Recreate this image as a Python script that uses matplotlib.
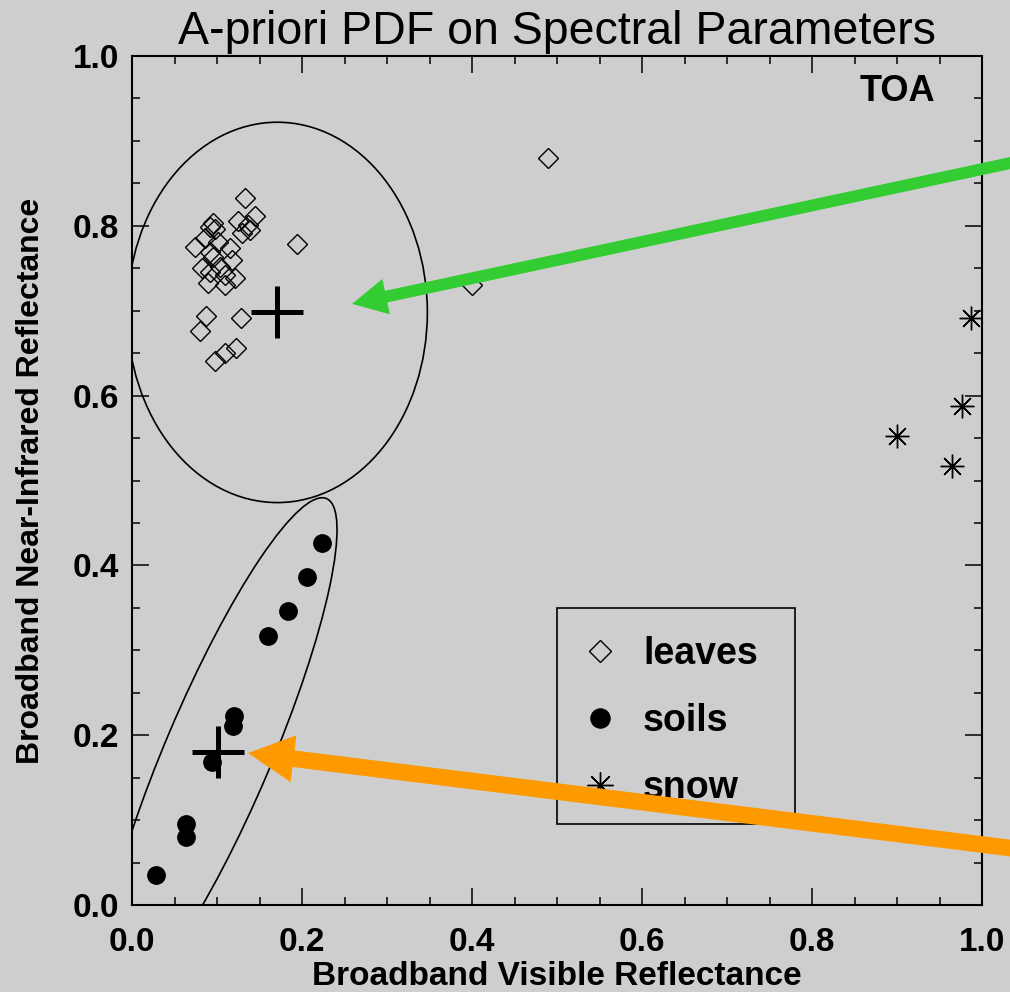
import matplotlib
matplotlib.use("Agg")
import matplotlib.pyplot as plt
from matplotlib.patches import Ellipse, FancyArrowPatch, Rectangle
from matplotlib.ticker import MultipleLocator, FormatStrFormatter

plt.rcParams['font.family'] = ['Liberation Sans', 'DejaVu Sans']

# ---------------- data ----------------
leaves_x = [0.133, 0.145, 0.125, 0.136, 0.139, 0.129, 0.095, 0.092, 0.098, 0.086,
            0.074, 0.101, 0.115, 0.092, 0.095, 0.118, 0.082, 0.104, 0.092, 0.109,
            0.121, 0.089, 0.109, 0.194, 0.087, 0.128, 0.080, 0.122, 0.109, 0.098,
            0.489, 0.400]
leaves_y = [0.833, 0.812, 0.806, 0.801, 0.795, 0.792, 0.803, 0.799, 0.796, 0.786,
            0.775, 0.781, 0.774, 0.769, 0.763, 0.760, 0.750, 0.751, 0.746, 0.742,
            0.739, 0.733, 0.730, 0.779, 0.694, 0.691, 0.676, 0.656, 0.650, 0.641,
            0.880, 0.730]

soils_x = [0.223, 0.206, 0.183, 0.160, 0.120, 0.119, 0.094, 0.063, 0.063, 0.028]
soils_y = [0.426, 0.386, 0.346, 0.317, 0.223, 0.211, 0.169, 0.095, 0.080, 0.035]

snow_x = [0.987, 0.976, 0.900, 0.965]
snow_y = [0.691, 0.588, 0.552, 0.517]

# class means (crosses)
mean_x = [0.170, 0.101]
mean_y = [0.698, 0.180]

# PDF ellipses: centre, full width, full height, angle (deg)
leaves_ell = dict(cx=0.171, cy=0.698, w=0.353, h=0.448, angle=0.0)
soils_ell = dict(cx=0.102, cy=0.180, w=0.649, h=0.125, angle=67.0)

# arrows: tail -> tip (data coords)
green_tail, green_tip = (1.05, 0.8775), (0.259, 0.708)
orange_tail, orange_tip = (1.05, 0.065), (0.1365, 0.179)

ticks = [0.0, 0.2, 0.4, 0.6, 0.8, 1.0]
legend_labels = ['leaves', 'soils', 'snow']

# ---------------- figure ----------------
BG = '#cecece'
fig = plt.figure(figsize=(10.10, 9.92), dpi=100, facecolor=BG)
ax = fig.add_axes([132/1010, 87/992, 850/1010, 849/992])
ax.set_facecolor(BG)

ax.set_xlim(0, 1)
ax.set_ylim(0, 1)

l1, = ax.plot(leaves_x, leaves_y, linestyle='none', marker='D', markersize=10.5,
              markerfacecolor='none', markeredgecolor='black', markeredgewidth=1.0,
              label=legend_labels[0])
l2, = ax.plot(soils_x, soils_y, linestyle='none', marker='o', markersize=12.5,
              markerfacecolor='black', markeredgecolor='black', label=legend_labels[1])
l3, = ax.plot(snow_x, snow_y, linestyle='none', marker=(8, 2, 0), markersize=17,
              markeredgecolor='black', markeredgewidth=1.0, label=legend_labels[2])

ax.plot(mean_x, mean_y, linestyle='none', marker='+', markersize=37,
        markeredgewidth=3.6, color='black')

for e in (leaves_ell, soils_ell):
    ax.add_patch(Ellipse((e['cx'], e['cy']), e['w'], e['h'], angle=e['angle'],
                         fill=False, edgecolor='black', linewidth=1.2))

# ticks / spines
ax.xaxis.set_minor_locator(MultipleLocator(0.05))
ax.yaxis.set_minor_locator(MultipleLocator(0.05))
ax.set_xticks(ticks)
ax.set_yticks(ticks)
ax.xaxis.set_major_formatter(FormatStrFormatter('%.1f'))
ax.yaxis.set_major_formatter(FormatStrFormatter('%.1f'))
ax.tick_params(which='both', direction='in', top=True, right=True, color='black')
ax.tick_params(which='major', length=12, width=1.1)
ax.tick_params(which='minor', length=6, width=1.1)
ax.tick_params(axis='x', which='major', pad=16, labelsize=24)
ax.tick_params(axis='y', which='major', pad=9, labelsize=24)
for lab in ax.get_xticklabels() + ax.get_yticklabels():
    lab.set_fontweight('bold')
for s in ax.spines.values():
    s.set_linewidth(1.5)

ax.set_xlabel('Broadband Visible Reflectance', fontsize=24, fontweight='bold')
ax.set_ylabel('Broadband Near-Infrared Reflectance', fontsize=23, fontweight='bold')
ax.xaxis.set_label_coords(0.5, -0.066)
ax.xaxis.label.set_verticalalignment('top')
ax.yaxis.set_label_coords(-0.101, 0.5)

ax.set_title('A-priori PDF on Spectral Parameters', fontsize=33.5, pad=9)

ax.text(0.945, 0.947, 'TOA', transform=ax.transAxes, ha='right', va='baseline',
        fontsize=26, fontweight='bold')

# legend (frame drawn separately as a plain box)
ax.add_patch(Rectangle((0.5, 0.0954), 0.28, 0.2544, transform=ax.transAxes,
                       fill=False, edgecolor='black', linewidth=1.2, zorder=4))
ax.legend(handles=[l1, l2, l3], loc='upper left', bbox_to_anchor=(0.4918, 0.3498),
          borderaxespad=0, frameon=False, prop={'size': 27, 'weight': 'bold'},
          borderpad=0.75, labelspacing=0.83, handlelength=1.17, handletextpad=0.56,
          numpoints=1, markerscale=1.1)

# arrows
for tail, tip, col, hl, hw, tw in ((green_tail, green_tip, '#33cc33', 25, 26, 8.5),
                                   (orange_tail, orange_tip, '#ff9900', 33, 34, 12)):
    arr = FancyArrowPatch(tail, tip, transform=ax.transData,
                          arrowstyle=f'simple,head_length={hl},head_width={hw},tail_width={tw}',
                          mutation_scale=1, shrinkA=0, shrinkB=0, color=col,
                          linewidth=0, clip_on=False, zorder=10)
    ax.add_patch(arr)

fig.savefig('out.png', dpi=100, facecolor=BG)
